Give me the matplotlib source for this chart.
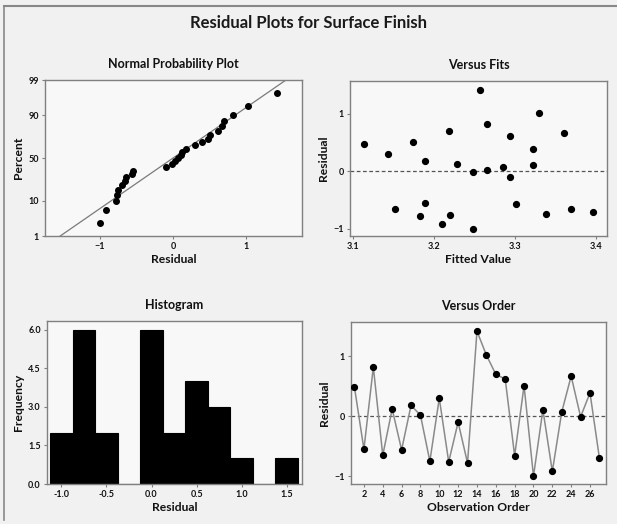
import matplotlib
matplotlib.use("Agg")
import matplotlib.pyplot as plt
import numpy as np
from statistics import NormalDist

# residuals in observation order
residuals = [0.48, -0.55, 0.82, -0.65, 0.12, -0.56, 0.18, 0.02, -0.75,
             0.30, -0.76, -0.10, -0.78, 1.42, 1.02, 0.70, 0.62, -0.66,
             0.51, -1.00, 0.11, -0.92, 0.07, 0.67, -0.01, 0.39, -0.70]
# fitted values for the same observations
fitted = [3.113, 3.189, 3.265, 3.152, 3.228, 3.301, 3.189, 3.265, 3.338,
          3.143, 3.219, 3.293, 3.182, 3.256, 3.329, 3.218, 3.293, 3.368,
          3.174, 3.248, 3.322, 3.210, 3.285, 3.360, 3.248, 3.322, 3.396]
pct_ticks = [1, 10, 50, 90, 99]
hist_bin_width = 0.25

plt.rcParams['font.family'] = ['Lato', 'DejaVu Sans']
nd = NormalDist()
res = np.array(residuals)
n = len(res)
obs = np.arange(1, n + 1)

fig = plt.figure(figsize=(6.17, 5.24), dpi=100, facecolor='#f1f1f1')

# outer frame of the picture
fig.add_artist(plt.Line2D([0.006, 1.0], [0.988, 0.988], color='#888888', lw=1.5))
fig.add_artist(plt.Line2D([0.006, 0.006], [0.008, 0.988], color='#888888', lw=1.2))

fig.text(0.5, 0.956, 'Residual Plots for Surface Finish', ha='center', va='center',
         fontsize=12, fontweight='bold', color='#1a1a1a')

spine_col = '#808080'
ax_bg = '#f8f8f8'


def style(ax, title):
    ax.set_facecolor(ax_bg)
    for s in ax.spines.values():
        s.set_color(spine_col)
        s.set_linewidth(1.0)
    ax.tick_params(length=2.5, width=0.8, color=spine_col, labelsize=6.5, pad=2,
                   labelcolor='#111111')
    for t in ax.get_xticklabels() + ax.get_yticklabels():
        t.set_fontweight('bold')
    ax.set_title(title, fontsize=9, fontweight='bold', pad=9, color='#111111')


lab = dict(fontsize=8.7, fontweight='bold', color='#111111')

# Normal probability plot
ax1 = fig.add_axes([0.0729, 0.5496, 0.4165, 0.2977])
srt = np.sort(res)
pp = [(i - 0.3) / (n + 0.4) for i in range(1, n + 1)]
z = [nd.inv_cdf(p) for p in pp]
mu, sd = res.mean(), res.std(ddof=1)
zl = np.linspace(nd.inv_cdf(0.002), nd.inv_cdf(0.998), 50)
ax1.plot(mu + sd * zl, zl, color='#7a7a7a', lw=0.9, zorder=1)
ax1.plot(srt, z, 'o', color='black', ms=4, zorder=2)
ax1.set_xlim(-1.75, 1.76)
ax1.set_ylim(nd.inv_cdf(0.01), nd.inv_cdf(0.99))
ax1.set_yticks([nd.inv_cdf(p / 100) for p in pct_ticks])
ax1.set_yticklabels([str(p) for p in pct_ticks])
ax1.set_xticks([-1, 0, 1])
ax1.set_xlabel('Residual', labelpad=2, **lab)
ax1.set_ylabel('Percent', labelpad=3, **lab)
style(ax1, 'Normal Probability Plot')

# Versus fits
ax2 = fig.add_axes([0.5673, 0.5496, 0.4165, 0.2958])
ax2.axhline(0, color='#555555', lw=0.9, ls=(0, (3, 2)), zorder=1)
ax2.plot(fitted, residuals, 'o', color='black', ms=4.2, zorder=2)
ax2.set_xlim(3.096, 3.413)
ax2.set_ylim(-1.125, 1.57)
ax2.set_xticks([3.1, 3.2, 3.3, 3.4])
ax2.set_yticks([-1, 0, 1])
ax2.set_xlabel('Fitted Value', labelpad=2, **lab)
ax2.set_ylabel('Residual', labelpad=3, **lab)
style(ax2, 'Versus Fits')

# Histogram
ax3 = fig.add_axes([0.0762, 0.0763, 0.4133, 0.311])
edges = np.arange(-1.125, 1.626, hist_bin_width)
ax3.hist(res, bins=edges, color='black', edgecolor='black', lw=0.8)
ax3.set_xlim(-1.16, 1.67)
ax3.set_ylim(0, 6.34)
ax3.set_xticks([-1.0, -0.5, 0.0, 0.5, 1.0, 1.5])
ax3.set_xticklabels(['-1.0', '-0.5', '0.0', '0.5', '1.0', '1.5'])
ax3.set_yticks([0.0, 1.5, 3.0, 4.5, 6.0])
ax3.set_yticklabels(['0.0', '1.5', '3.0', '4.5', '6.0'])
ax3.set_xlabel('Residual', labelpad=2, **lab)
ax3.set_ylabel('Frequency', labelpad=3, **lab)
style(ax3, 'Histogram')

# Versus order
ax4 = fig.add_axes([0.5689, 0.0763, 0.4133, 0.309])
ax4.axhline(0, color='#555555', lw=0.9, ls=(0, (3, 2)), zorder=1)
ax4.plot(obs, residuals, '-', color='#8a8a8a', lw=1.1, zorder=2)
ax4.plot(obs, residuals, 'o', color='black', ms=4.2, zorder=3)
ax4.set_xlim(0.63, 27.7)
ax4.set_ylim(-1.13, 1.57)
ax4.set_xticks(np.arange(2, 27, 2))
ax4.set_yticks([-1, 0, 1])
ax4.set_xlabel('Observation Order', labelpad=2, **lab)
ax4.set_ylabel('Residual', labelpad=3, **lab)
style(ax4, 'Versus Order')

fig.savefig('out.png', dpi=100, facecolor=fig.get_facecolor())
